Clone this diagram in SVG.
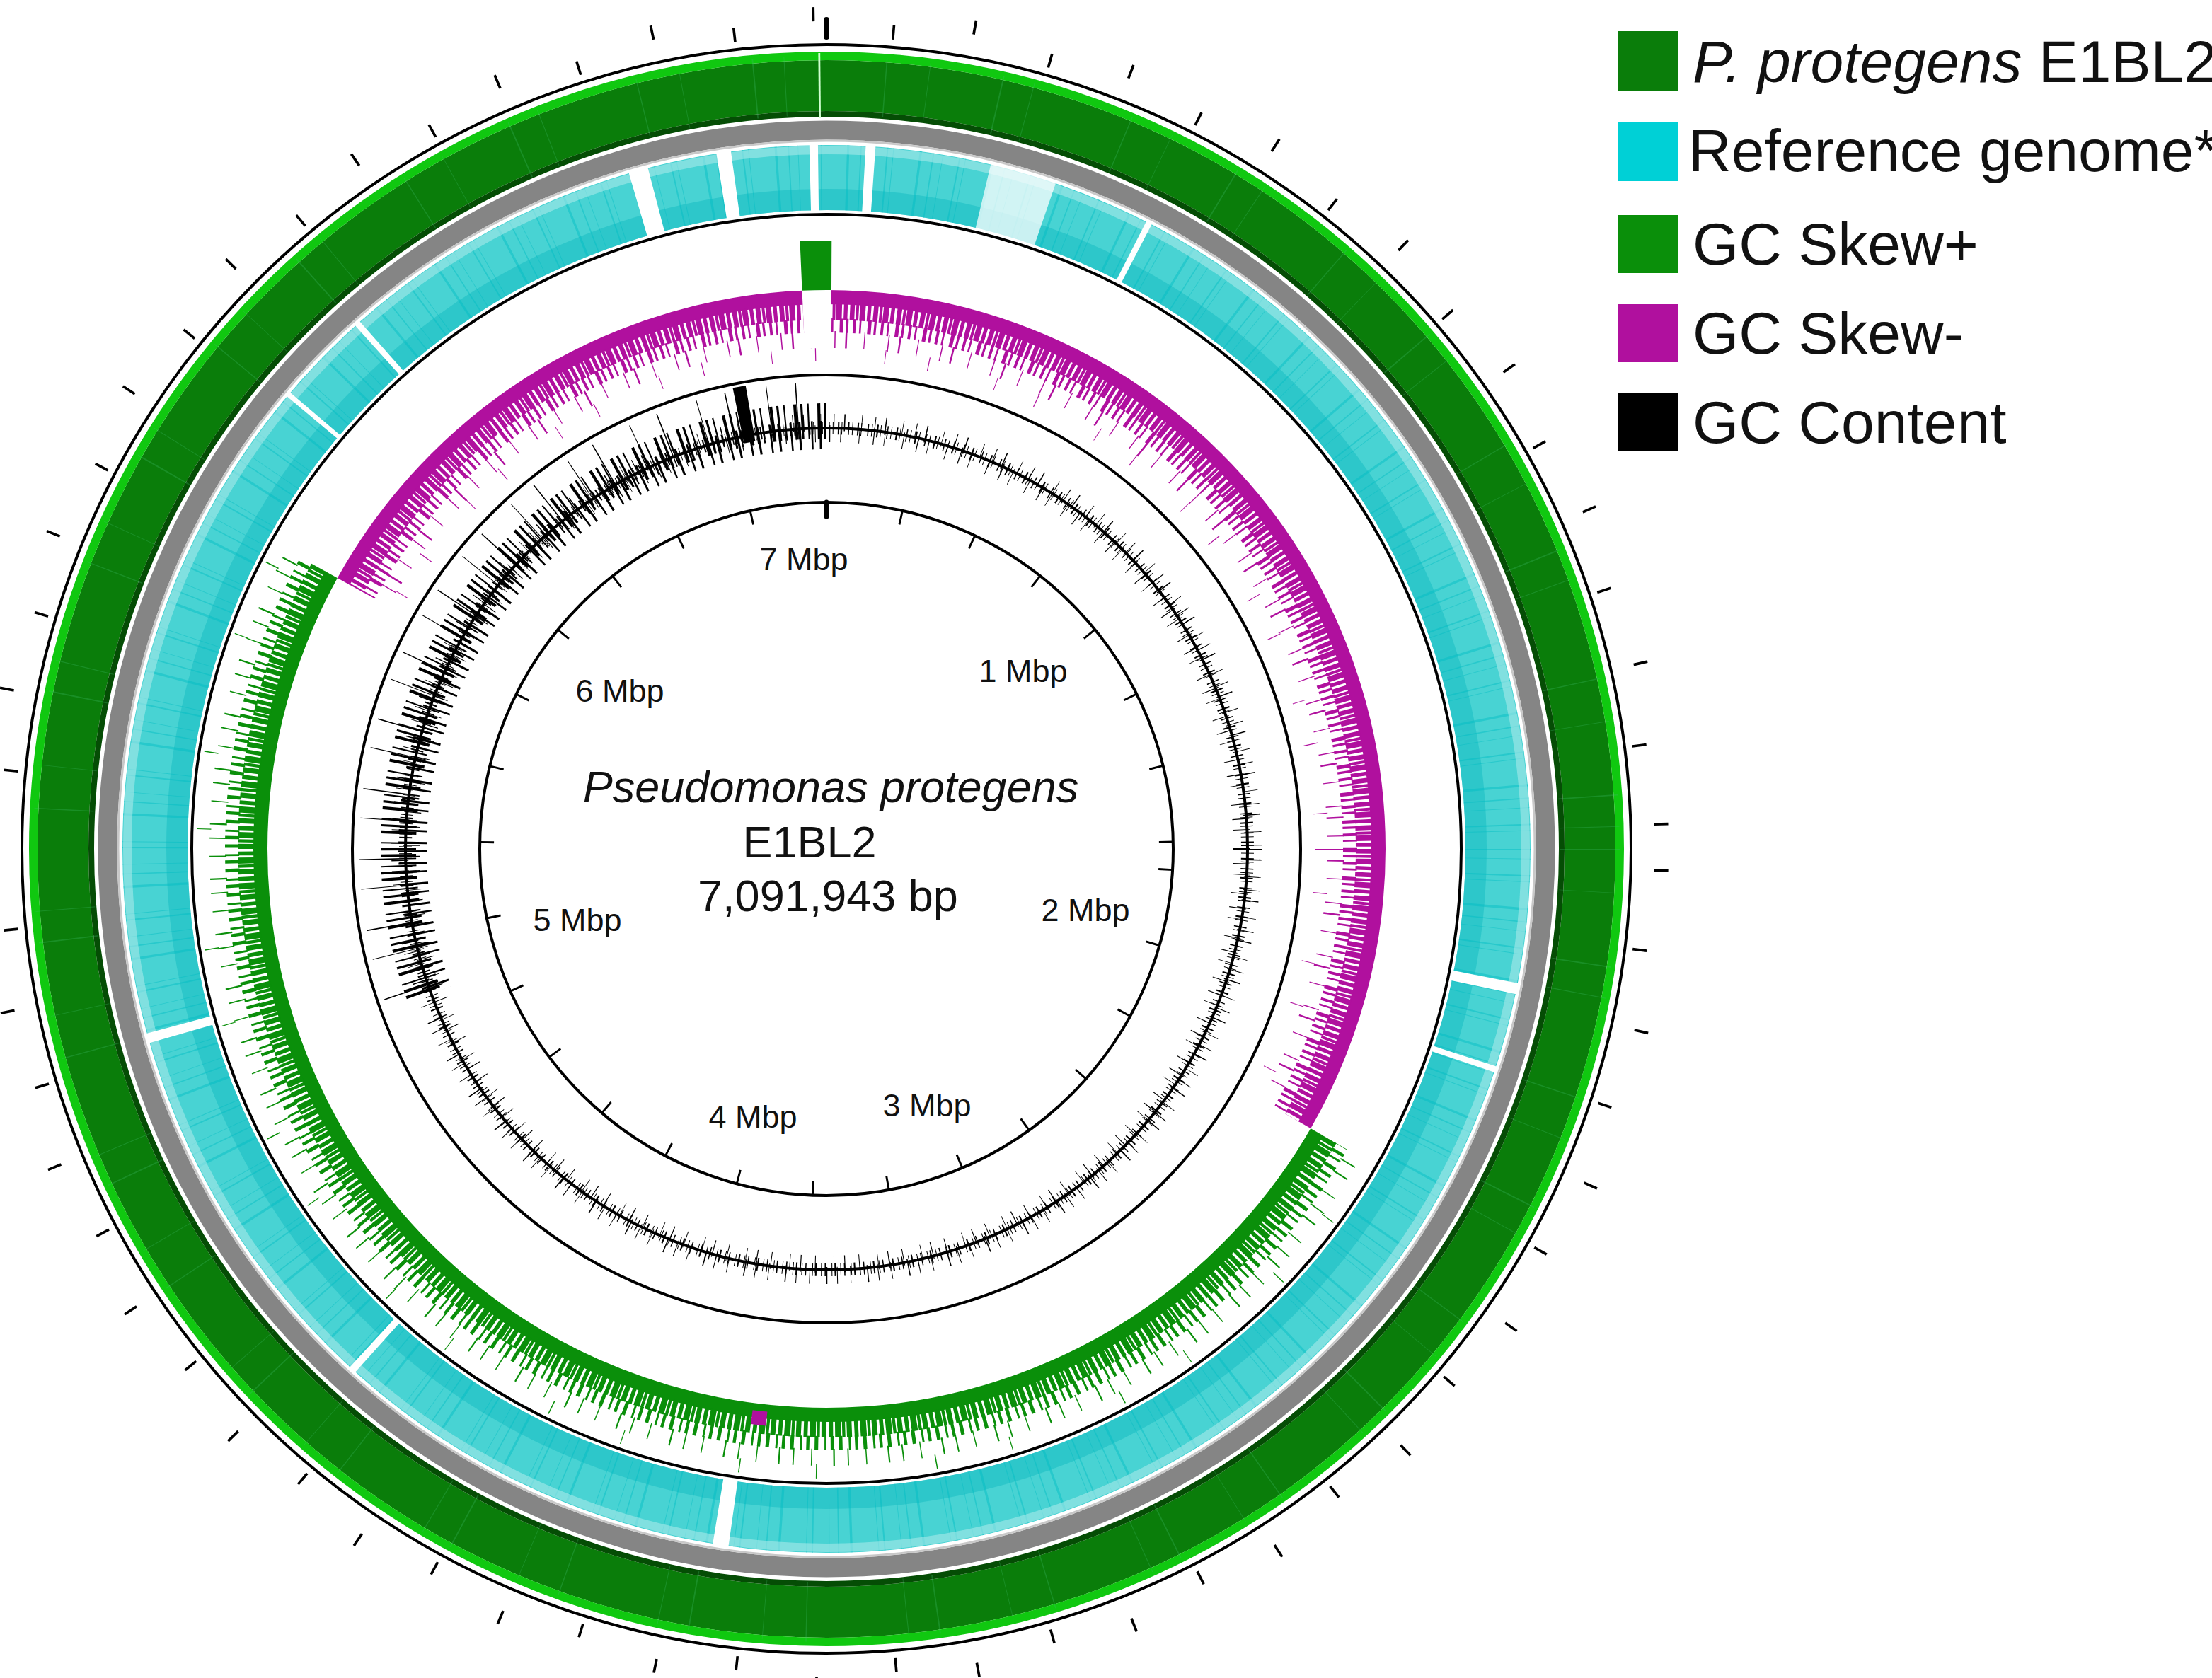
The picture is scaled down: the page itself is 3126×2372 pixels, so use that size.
<svg xmlns="http://www.w3.org/2000/svg" width="3126" height="2372" viewBox="0 0 3126 2372">
<style>
.lbl{font-family:"Liberation Sans",Arial,sans-serif;font-size:45px;fill:#111;text-anchor:middle}
.ctr{font-family:"Liberation Sans",Arial,sans-serif;font-size:63px;fill:#111;text-anchor:middle}
.leg{font-family:"Liberation Sans",Arial,sans-serif;font-size:84px;fill:#111}
.tk{stroke:#000;stroke-width:4;stroke-linecap:round}
</style>
<defs>
<clipPath id="neg"><polygon points="1168,1200 31,570 1168,-100 2294,550 2294,1850"/></clipPath>
<clipPath id="pos"><polygon points="1168,1200 2294,1850 1168,2500 42,1850 31,570"/></clipPath>
<clipPath id="lefttop"><polygon points="1168,1200 -200,1700 -200,-200 1168,-200"/></clipPath>
</defs>
<rect width="3126" height="2372" fill="#fff"/>
<g id="outer-ring">
<circle cx="1168" cy="1200" r="1137" fill="none" stroke="#000" stroke-width="4"/>
<circle cx="1168" cy="1200" r="1079" fill="none" stroke="#0a7d0a" stroke-width="72"/>
<circle cx="1168" cy="1200" r="1121" fill="none" stroke="#10c810" stroke-width="12"/>
<circle cx="1168" cy="1200" r="1039" fill="none" stroke="#054d05" stroke-width="8"/>
<circle cx="1168" cy="1200" r="1079" fill="none" stroke="#3fb86a" stroke-opacity="0.3" stroke-width="84" pathLength="360" stroke-dasharray="0.08 3.1 0.05 5.3 0.1 2.2 0.06 7.4"/>
<circle cx="1168" cy="1200" r="1079" fill="none" stroke="#d0ffd0" stroke-width="92" pathLength="360" stroke-dasharray="0.15 359.85" stroke-dashoffset="90.6"/>
</g>
<g id="gray-ring">
<circle cx="1168" cy="1200" r="1016" fill="none" stroke="#858585" stroke-width="27"/>
<circle cx="1168" cy="1200" r="1001" fill="none" stroke="#c8c8c8" stroke-width="3"/>
</g>
<g id="reference-ring">
<circle cx="1168" cy="1200" r="949" fill="none" stroke="#48d3d3" stroke-width="92"/>
<circle cx="1168" cy="1200" r="918" fill="none" stroke="#22c2c6" stroke-width="30" stroke-opacity="0.7"/>
<circle cx="1168" cy="1200" r="949" fill="none" stroke="#00bcc4" stroke-opacity="0.45" stroke-width="92" pathLength="360" stroke-dasharray="0.1 0.7 0.05 1.3 0.12 0.4 0.06 2.1 0.2 0.9"/>
<circle cx="1168" cy="1200" r="988" fill="none" stroke="#a8eaea" stroke-width="12" stroke-opacity="0.6"/>
<g fill="none" stroke="#fff" stroke-width="96">
<circle cx="1168" cy="1200" r="949" pathLength="360" stroke-dasharray="1.6 358.4" stroke-dashoffset="106.3"/>
<circle cx="1168" cy="1200" r="949" pathLength="360" stroke-dasharray="1.2 358.8" stroke-dashoffset="99"/>
<circle cx="1168" cy="1200" r="949" pathLength="360" stroke-dasharray="0.7 359.3" stroke-dashoffset="91.4"/>
<circle cx="1168" cy="1200" r="949" pathLength="360" stroke-dasharray="0.8 359.2" stroke-dashoffset="86.8"/>
<circle cx="1168" cy="1200" r="949" pathLength="360" stroke-dasharray="0.5 359.5" stroke-dashoffset="63"/>
<circle cx="1168" cy="1200" r="949" pathLength="360" stroke-dasharray="0.5 359.5" stroke-dashoffset="132"/>
<circle cx="1168" cy="1200" r="949" pathLength="360" stroke-dasharray="0.4 359.6" stroke-dashoffset="140"/>
<circle cx="1168" cy="1200" r="949" pathLength="360" stroke-dasharray="0.8 359.2" stroke-dashoffset="-164"/>
<circle cx="1168" cy="1200" r="949" pathLength="360" stroke-dasharray="0.6 359.4" stroke-dashoffset="-132"/>
<circle cx="1168" cy="1200" r="949" pathLength="360" stroke-dasharray="0.9 359.1" stroke-dashoffset="-11"/>
<circle cx="1168" cy="1200" r="949" pathLength="360" stroke-dasharray="0.5 359.5" stroke-dashoffset="-18"/>
<circle cx="1168" cy="1200" r="949" pathLength="360" stroke-dasharray="1.3 358.7" stroke-dashoffset="-98"/>
</g>
<circle cx="1168" cy="1200" r="949" fill="none" stroke="#fff" stroke-opacity="0.75" stroke-width="96" pathLength="360" stroke-dasharray="5.5 354.5" stroke-dashoffset="76.5"/>
<circle cx="1168" cy="1200" r="897" fill="none" stroke="#000" stroke-width="4"/>
</g>
<g id="gc-skew">
<g clip-path="url(#pos)" fill="none" stroke="#0a8f0a">
<circle cx="1168" cy="1200" r="800" stroke-width="20"/>
<circle cx="1168" cy="1200" r="820" stroke-width="24" pathLength="360" stroke-dasharray="0.5 0.15 0.3 0.1 0.6 0.2 0.4 0.25"/>
<circle cx="1168" cy="1200" r="840" stroke-width="20" pathLength="360" stroke-dasharray="0.3 0.4 0.2 0.6 0.35 0.5"/>
<circle cx="1168" cy="1200" r="860" stroke-width="24" pathLength="360" stroke-dasharray="0.12 1.2 0.15 2 0.1 1.6"/>
<circle cx="1168" cy="1200" r="880" stroke-width="20" pathLength="360" stroke-dasharray="0.08 7 0.1 11"/>
</g>
<g clip-path="url(#neg)" fill="none" stroke="#b0109e">
<circle cx="1168" cy="1200" r="780" stroke-width="20"/>
<circle cx="1168" cy="1200" r="760" stroke-width="24" pathLength="360" stroke-dasharray="0.5 0.15 0.3 0.1 0.6 0.2 0.4 0.25"/>
<circle cx="1168" cy="1200" r="740" stroke-width="20" pathLength="360" stroke-dasharray="0.4 0.3 0.25 0.5 0.3 0.4 0.2 0.7"/>
<circle cx="1168" cy="1200" r="720" stroke-width="24" pathLength="360" stroke-dasharray="0.12 1.1 0.2 1.9 0.1 2.6"/>
<circle cx="1168" cy="1200" r="700" stroke-width="20" pathLength="360" stroke-dasharray="0.08 5 0.1 8"/>
</g>
<circle cx="1168" cy="1200" r="750" fill="none" stroke="#fff" stroke-width="84" pathLength="360" stroke-dasharray="3 357" stroke-dashoffset="92.5"/>
<circle cx="1168" cy="1200" r="825" fill="none" stroke="#0a8f0a" stroke-width="70" pathLength="360" stroke-dasharray="3 357" stroke-dashoffset="92.5"/>
<circle cx="1168" cy="1200" r="810" fill="none" stroke="#b0109e" stroke-width="20" pathLength="360" stroke-dasharray="1.5 358.5" stroke-dashoffset="-96"/>
</g>
<g id="gc-content">
<circle cx="1168" cy="1200" r="670" fill="none" stroke="#000" stroke-width="4"/>
<g fill="none" stroke="#000">
<circle cx="1168" cy="1200" r="595" stroke-width="4"/>
<circle cx="1168" cy="1200" r="595" stroke-width="18" pathLength="360" stroke-dasharray="0.15 0.4 0.1 0.6 0.2 0.3 0.1 0.8"/>
<circle cx="1168" cy="1200" r="603" stroke-width="24" pathLength="360" stroke-dasharray="0.1 1.3 0.15 2.2 0.08 1.7"/>
<circle cx="1168" cy="1200" r="587" stroke-width="24" pathLength="360" stroke-dasharray="0.1 1.9 0.12 1.4 0.08 2.5"/>
<g clip-path="url(#lefttop)">
<circle cx="1168" cy="1200" r="605" stroke-width="50" pathLength="360" stroke-dasharray="0.3 0.6 0.2 1.1 0.4 0.5"/>
<circle cx="1168" cy="1200" r="585" stroke-width="40" pathLength="360" stroke-dasharray="0.25 0.9 0.3 1.4"/>
<circle cx="1168" cy="1200" r="620" stroke-width="80" pathLength="360" stroke-dasharray="0.1 3.5 0.15 5"/>
</g>
<circle cx="1168" cy="1200" r="625" stroke-width="80" pathLength="360" stroke-dasharray="1.6 358.4" stroke-dashoffset="101.5"/>
</g>
<circle cx="1168" cy="1200" r="490" fill="#fff" stroke="#000" stroke-width="4"/>
</g>
<g id="inner-ticks" class="tk">
<line x1="1168" y1="710" x2="1168" y2="730" stroke-width="7"/>
<circle cx="1168" cy="1200" r="480" fill="none" stroke-width="20" stroke-linecap="butt" pathLength="360" stroke-dasharray="0.35 12.34" stroke-dashoffset="-269.8"/>
</g>
<g id="outer-ticks" class="tk">
<line x1="1168" y1="28" x2="1168" y2="52" stroke-width="8"/>
<circle cx="1168" cy="1200" r="1158" fill="none" stroke-width="20" stroke-linecap="butt" pathLength="360" stroke-dasharray="0.18 10.97" stroke-dashoffset="-274.6"/>
<circle cx="1168" cy="1200" r="1180" fill="none" stroke-width="20" stroke-linecap="butt" pathLength="360" stroke-dasharray="0.18 10.97" stroke-dashoffset="-269.0"/>
</g>
<g id="labels">
<text class="lbl" x="1136" y="806">7 Mbp</text>
<text class="lbl" x="1446" y="964">1 Mbp</text>
<text class="lbl" x="876" y="992">6 Mbp</text>
<text class="lbl" x="1534" y="1302">2 Mbp</text>
<text class="lbl" x="816" y="1316">5 Mbp</text>
<text class="lbl" x="1310" y="1578">3 Mbp</text>
<text class="lbl" x="1064" y="1594">4 Mbp</text>
<text class="ctr" x="1174" y="1134" font-style="italic">Pseudomonas protegens</text>
<text class="ctr" x="1144" y="1212">E1BL2</text>
<text class="ctr" x="1170" y="1288">7,091,943 bp</text>
</g>
<g id="legend">
<rect x="2286" y="44" width="86" height="84" fill="#0a7d0a"/>
<rect x="2286" y="172" width="86" height="84" fill="#00d0d6"/>
<rect x="2286" y="304" width="86" height="82" fill="#0a8f0a"/>
<rect x="2286" y="430" width="86" height="82" fill="#b0109e"/>
<rect x="2286" y="556" width="86" height="82" fill="#000"/>
<text class="leg" x="2392" y="116"><tspan font-style="italic">P. protegens</tspan> E1BL2</text>
<text class="leg" x="2386" y="242">Reference genome*</text>
<text class="leg" x="2392" y="374">GC Skew+</text>
<text class="leg" x="2392" y="500">GC Skew-</text>
<text class="leg" x="2392" y="626">GC Content</text>
</g>
</svg>
